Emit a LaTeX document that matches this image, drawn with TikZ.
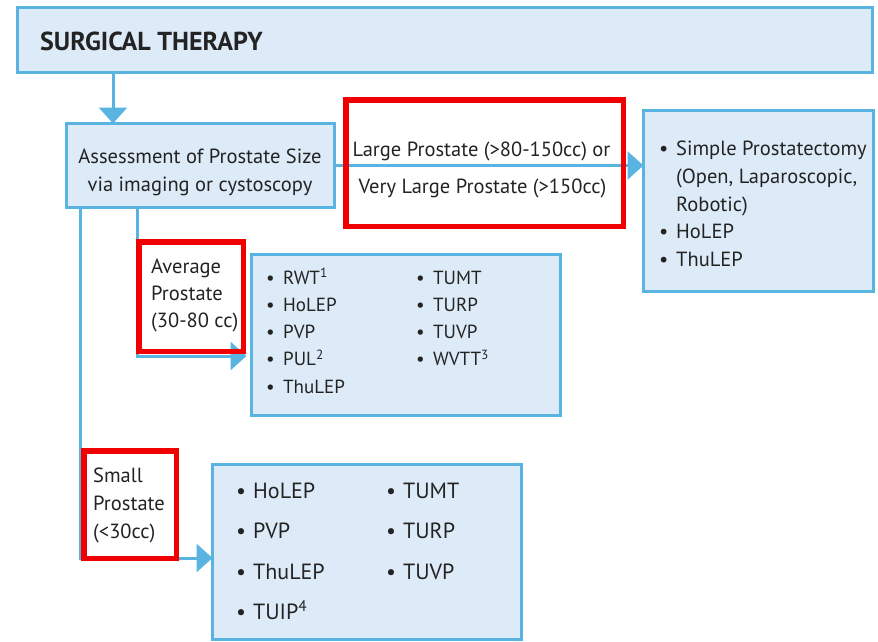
\documentclass[tikz,border=0pt]{standalone}
\usepackage{fontspec}
\setmainfont{PT Sans}
\usetikzlibrary{arrows.meta}
\definecolor{boxfill}{HTML}{DCEBF7}
\definecolor{boxline}{HTML}{5AB4E1}
\definecolor{ink}{HTML}{232323}
\definecolor{mark}{HTML}{F00000}
% bullet followed by its item text
\newcommand\bl[1]{\makebox[17pt][l]{\textbullet}#1}

\begin{document}
\begin{tikzpicture}[x=1pt,y=-1pt,
  box/.style={draw=boxline, fill=boxfill, line width=3pt, inner sep=0pt, outer sep=0pt, anchor=north west},
  flow/.style={draw=boxline, line width=3pt, -{Triangle[length=16pt,width=28pt]}},
  txt/.style={inner sep=0pt, anchor=base west, text=ink, font=\fontsize{20.5}{24}\selectfont},
  ctxt/.style={txt, anchor=base},
  midtxt/.style={txt, font=\fontsize{19}{23}\selectfont},
  bigtxt/.style={txt, font=\fontsize{22}{26}\selectfont},
  hilite/.style={draw=mark, line width=5.5pt, inner sep=0pt, outer sep=0pt, anchor=north west}]
\useasboundingbox (0,0) rectangle (878,642);

% boxes
\node[box, minimum width=855pt, minimum height=65pt] (top) at (17.5,7.5) {};
\node[box, minimum width=268pt, minimum height=84pt] (assess) at (66.5,123.5) {};
\node[box, minimum width=230pt, minimum height=181pt] (big) at (643.5,110.5) {};
\node[box, minimum width=309pt, minimum height=161pt] (avg) at (251.5,254.5) {};
\node[box, minimum width=309pt, minimum height=175pt] (small) at (212.5,464.5) {};

% branch points
\coordinate (a1) at (113,0);
\coordinate (a2) at (137,356);
\coordinate (a3) at (80,558);

% connectors
\draw[flow] (top.south -| a1) -- (assess.north -| a1);
\draw[flow] (assess.east) -- (assess.east -| big.west);
\draw[flow, shorten >=5pt] (assess.south -| a2) |- (avg.west |- a2);
\draw[flow] (assess.south -| a3) |- (small.west |- a3);

% texts
\node[txt, font=\bfseries\fontsize{26}{30}\selectfont] (title) at (40,51) {SURGICAL THERAPY};
\node[ctxt] (as1) at (200,163) {Assessment of Prostate Size};
\node[ctxt] (as2) at (200,191) {via imaging or cystoscopy};
\node[ctxt] (lg1) at (481.5,156) {Large Prostate (>80-150cc) or};
\node[ctxt] (lg2) at (482.5,193) {Very Large Prostate (>150cc)};

\node[txt] (av1) at (151,273) {Average};
\node[txt] (av2) at (151,300) {Prostate};
\node[txt] (av3) at (151,327) {(30-80 cc)};

\node[txt] (sm1) at (93,482) {Small};
\node[txt] (sm2) at (93,510) {Prostate};
\node[txt] (sm3) at (93,538) {(<30cc)};

% large prostate options
\node[txt] (b1) at (659,155) {\bl{Simple Prostatectomy}};
\node[txt] (b2) at (676,183) {(Open, Laparoscopic,};
\node[txt] (b3) at (676,211) {Robotic)};
\node[txt] (b4) at (659,238) {\bl{HoLEP}};
\node[txt] (b5) at (659,266) {\bl{ThuLEP}};

% average prostate options
\foreach \t [count=\i] in {RWT\textsuperscript{1},HoLEP,PVP,PUL\textsuperscript{2},ThuLEP}
  \node[midtxt] (m\i) at (266,{284+27.25*(\i-1)}) {\bl{\t}};
\foreach \t [count=\i] in {TUMT,TURP,TUVP,WVTT\textsuperscript{3}}
  \node[midtxt] (n\i) at (416,{284+27.25*(\i-1)}) {\bl{\t}};

% small prostate options
\foreach \t [count=\i] in {HoLEP,PVP,ThuLEP,TUIP\textsuperscript{4}}
  \node[bigtxt] (s\i) at (236,{498+40.5*(\i-1)}) {\bl{\t}};
\foreach \t [count=\i] in {TUMT,TURP,TUVP}
  \node[bigtxt] (t\i) at (386,{498+40.5*(\i-1)}) {\bl{\t}};

% highlight frames
\node[hilite, minimum width=277.5pt, minimum height=126.5pt] (hl1) at (345.75,99.75) {};
\node[hilite, minimum width=104.5pt, minimum height=109.5pt] (hl2) at (138.75,241.75) {};
\node[hilite, minimum width=92.5pt, minimum height=107.5pt] (hl3) at (83.75,450.75) {};
\end{tikzpicture}
\end{document}
